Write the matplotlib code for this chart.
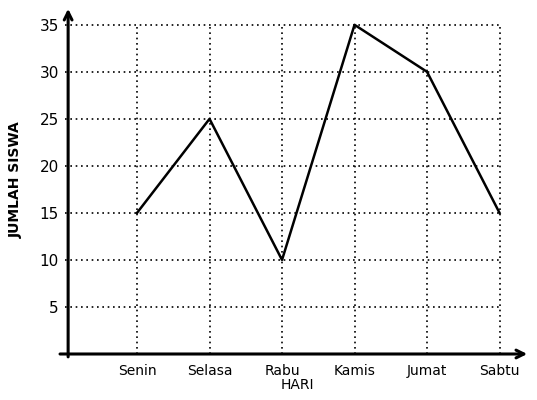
import matplotlib.pyplot as plt

# data
hari = ['Senin', 'Selasa', 'Rabu', 'Kamis', 'Jumat', 'Sabtu']
jumlah_siswa = [15, 25, 10, 35, 30, 15]
y_ticks = [5, 10, 15, 20, 25, 30, 35]

fig = plt.figure(figsize=(5.37, 4.0), dpi=100)
ax = fig.add_axes([64.5 / 537, 46 / 400, (530 - 64.5) / 537, (400 - 46 - 6) / 400])

x = list(range(1, len(hari) + 1))
xmax = len(hari)
ymax = max(y_ticks)

# grid dotted, only inside the box
for xi in x:
    ax.plot([xi, xi], [0, ymax], color='black', lw=1.2, ls=(0, (1, 2.2)), zorder=1)
for yi in y_ticks:
    ax.plot([0, xmax], [yi, yi], color='black', lw=1.2, ls=(0, (1, 2.2)), zorder=1)

ax.plot(x, jumlah_siswa, color='black', lw=1.8, zorder=3)

ax.set_xlim(0, 6.42)
ax.set_ylim(0, 37.0)
for s in ax.spines.values():
    s.set_visible(False)

# axis lines with arrows
ax.annotate('', xy=(0.05, 37.0), xytext=(0.05, -0.6),
            arrowprops=dict(arrowstyle='->', lw=2.2, color='black', mutation_scale=14),
            annotation_clip=False)
ax.annotate('', xy=(6.42, 0), xytext=(-0.1, 0),
            arrowprops=dict(arrowstyle='->', lw=2.2, color='black', mutation_scale=14),
            annotation_clip=False)

ax.set_xticks(x)
ax.set_xticklabels(hari, fontsize=10)
ax.set_yticks(y_ticks)
ax.set_yticklabels([str(v) for v in y_ticks], fontsize=11)
ax.tick_params(length=0)
ax.tick_params(axis='x', pad=7)
ax.tick_params(axis='y', pad=4)

ax.set_xlabel('HARI', fontsize=10, labelpad=0)
ax.set_ylabel('JUMLAH SISWA', fontsize=10, fontweight='bold', labelpad=12)

fig.savefig('out.png', dpi=100)
